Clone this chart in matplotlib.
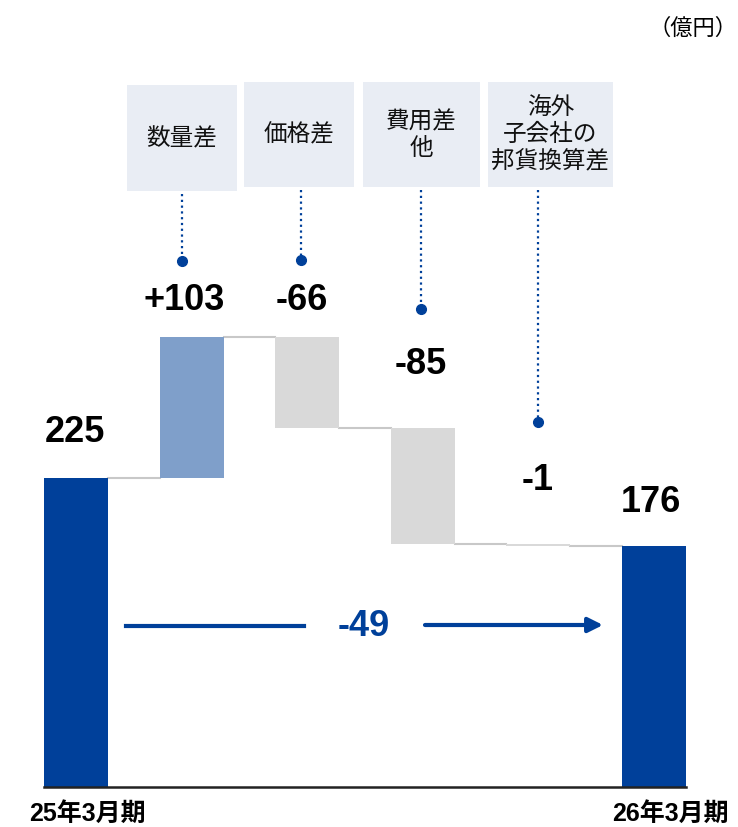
import matplotlib.pyplot as plt
from matplotlib.patches import Rectangle

plt.rcParams['font.family'] = ['Liberation Sans', 'Noto Sans CJK JP', 'DejaVu Sans']

# waterfall data (億円)
start_label = "25年3月期"
end_label = "26年3月期"
start_value = 225
end_value = 176
step_names = ["数量差", "価格差", "費用差\n他", "海外\n子会社の\n邦貨換算差"]
step_values = [103, -66, -85, -1]

BLUE = '#00409a'
LIGHT_BLUE = '#7f9fca'
GRAY = '#d9d9d9'
LINE_GRAY = '#c8c8c8'
BOX = '#e9edf4'

PX = 1.372    # pixels per 億円
STEP = 115.6  # pixels per category


def px(x, y):
    # pixel position -> data position
    return (x - 76) / STEP, (787 - y) / PX


fig = plt.figure(figsize=(7.38, 8.27), dpi=100)
ax = fig.add_axes([0, 0, 1, 1])
ax.axis('off')
ax.set_xlim(-76 / STEP, (738 - 76) / STEP)
ax.set_ylim(-40 / PX, 787 / PX)

w = 64 / STEP
n = len(step_values)

# end bars
ax.bar([0, n + 1], [start_value, end_value], width=w, color=BLUE, zorder=2)

# step bars
levels = [start_value]
for i, d in enumerate(step_values):
    prev = levels[-1]
    ax.bar(i + 1, abs(d), bottom=min(prev, prev + d), width=w,
           color=LIGHT_BLUE if d > 0 else GRAY, zorder=2)
    levels.append(prev + d)

# connectors
for i, lv in enumerate(levels):
    ax.plot([i + w / 2, i + 1 - w / 2], [lv, lv], color=LINE_GRAY, lw=1.5, zorder=1)

# baseline
ax.plot([-w / 2, n + 1 + w / 2], [0, 0], color='#222222', lw=1.8, zorder=3)

num_font = dict(fontsize=26, fontweight='bold', ha='center', va='center')

# value labels
ax.text(*px(75, 433), f"{start_value}", **num_font)
ax.text(*px(651, 502), f"{end_value}", **num_font)
label_xy = [(184, 301), (302, 301), (421, 364), (538, 480)]
for (lx, ly), d in zip(label_xy, step_values):
    ax.text(*px(lx, ly), f"{d:+d}" if d > 0 else f"{d}", **num_font)

# category boxes with dotted leaders
boxes = [(127, 85, 237, 191), (244, 82, 354, 187), (363, 82, 480, 187), (488, 82, 613, 187)]
dots = [(182, 261), (301, 260), (421, 309), (538, 422)]
for name, (x0, y0, x1, y1), (dx, dy) in zip(step_names, boxes, dots):
    bx, by = px(x0, y1)
    tx, ty = px(x1, y0)
    ax.add_patch(Rectangle((bx, by), tx - bx, ty - by, color=BOX, lw=0, zorder=1))
    ax.text((bx + tx) / 2, (by + ty) / 2 - 1 / PX, name, fontsize=17, ha='center',
            va='center', linespacing=1.25, color='#111111')
    lx, ly0 = px(dx, y1 + 3)
    _, ly1 = px(dx, dy)
    ax.plot([lx, lx], [ly0, ly1], color=BLUE, lw=1.6, ls=(0, (1, 1.6)), zorder=2)
    ax.plot(lx, ly1, 'o', color=BLUE, ms=7, zorder=3)

# total change arrow
diff = end_value - start_value
ax.plot(*zip(px(126, 626), px(304, 626)), color=BLUE, lw=3)
ax.annotate('', xy=px(603, 625), xytext=px(425, 625),
            arrowprops=dict(arrowstyle='-|>', color=BLUE, lw=3, mutation_scale=22,
                            shrinkA=0, shrinkB=0))
ax.text(*px(364, 627), f"{diff}", color=BLUE, **num_font)

# period labels
ax.text(*px(87, 814), start_label, fontsize=18, fontweight='bold', ha='center', va='center')
ax.text(*px(670, 814), end_label, fontsize=18, fontweight='bold', ha='center', va='center')

ax.text(*px(737, 29), "（億円）", fontsize=16, ha='right', va='center')

fig.savefig("out.png", dpi=100)
